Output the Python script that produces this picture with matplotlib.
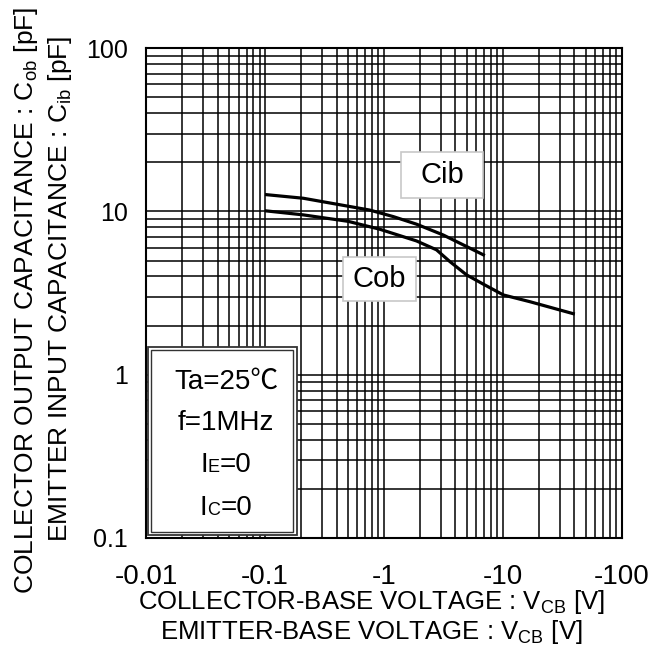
import matplotlib
matplotlib.use('Agg')
import matplotlib.pyplot as plt
import matplotlib.ticker as mtick
from matplotlib.patches import Rectangle
from matplotlib.offsetbox import TextArea, HPacker, AnnotationBbox

plt.rcParams['font.family'] = ['Liberation Sans', 'Noto Sans CJK JP', 'DejaVu Sans']
plt.rcParams['mathtext.fontset'] = 'custom'
plt.rcParams['mathtext.rm'] = 'Liberation Sans'
plt.rcParams['mathtext.it'] = 'Liberation Sans'

# data (|V|, pF)
vcb_cib = [0.1, 0.21, 0.76, 1.2, 1.88, 3.15, 7.06]
cib = [12.7, 12.05, 10.2, 9.3, 8.36, 7.18, 5.37]
vcb_cob = [0.1, 0.21, 0.5, 0.925, 1.88, 2.77, 3.59, 4.95, 6.84, 10.1, 16.9, 40.3]
cob = [10.1, 9.53, 8.7, 7.78, 6.6, 5.82, 4.93, 4.09, 3.59, 3.08, 2.80, 2.35]

x_ticks = [0.01, 0.1, 1, 10, 100]
x_ticklabels = ['-0.01', '-0.1', '-1', '-10', '-100']
y_ticks = [0.1, 1, 10, 100]
y_ticklabels = ['0.1', '1', '10', '100']

fig = plt.figure(figsize=(6.49, 6.52), dpi=100)
ax = fig.add_axes([0.225, 0.175, 0.733, 0.751])

ax.set_xscale('log')
ax.set_yscale('log')
ax.set_xlim(0.01, 100)
ax.set_ylim(0.1, 100)

# grid: major + minor, all black
ax.xaxis.set_minor_locator(mtick.LogLocator(base=10, subs=range(2, 10)))
ax.yaxis.set_minor_locator(mtick.LogLocator(base=10, subs=range(2, 10)))
ax.grid(which='both', color='black', linewidth=1.1)
ax.set_axisbelow(True)

ax.set_xticks(x_ticks)
ax.set_xticklabels(x_ticklabels, fontsize=20)
ax.set_yticks(y_ticks)
ax.set_yticklabels(y_ticklabels, fontsize=18)
ax.xaxis.set_minor_formatter(mtick.NullFormatter())
ax.yaxis.set_minor_formatter(mtick.NullFormatter())
ax.tick_params(which='both', length=0)
ax.tick_params(axis='x', pad=19)
ax.tick_params(axis='y', pad=13)

for sp in ax.spines.values():
    sp.set_linewidth(1.5)

# curves
ax.plot(vcb_cib, cib, color='black', linewidth=2.3, solid_capstyle='butt')
ax.plot(vcb_cob, cob, color='black', linewidth=2.3, solid_capstyle='butt')

# curve labels with light grey boxes
ax.add_patch(Rectangle((0.536, 0.694), 0.172, 0.094, transform=ax.transAxes,
                       facecolor='white', edgecolor='#c8c8c8', linewidth=1.2, zorder=3))
ax.text(0.622, 0.741, 'Cib', fontsize=21, ha='center', va='center', transform=ax.transAxes, zorder=4)
ax.add_patch(Rectangle((0.414, 0.484), 0.153, 0.089, transform=ax.transAxes,
                       facecolor='white', edgecolor='#c8c8c8', linewidth=1.2, zorder=3))
ax.text(0.490, 0.529, 'Cob', fontsize=21, ha='center', va='center', transform=ax.transAxes, zorder=4)

# conditions box (double edge)
ax.add_patch(Rectangle((0.004, 0.006), 0.313, 0.384, transform=ax.transAxes,
                       facecolor='white', edgecolor='#333333', linewidth=1.3, zorder=3))
ax.add_patch(Rectangle((0.011, 0.013), 0.299, 0.370, transform=ax.transAxes,
                       facecolor='white', edgecolor='#333333', linewidth=1.0, zorder=3))

cx = 0.168
ax.text(cx, 0.318, 'Ta=25℃', fontsize=20, ha='center', va='center', transform=ax.transAxes, zorder=4)
ax.text(cx, 0.235, 'f=1MHz', fontsize=20, ha='center', va='center', transform=ax.transAxes, zorder=4)


def small_caps_label(big, small, rest, ypos):
    parts = [TextArea(big, textprops=dict(fontsize=20)),
             TextArea(small, textprops=dict(fontsize=13)),
             TextArea(rest, textprops=dict(fontsize=20))]
    pack = HPacker(children=parts, align='baseline', pad=0, sep=0)
    ab = AnnotationBbox(pack, (cx, ypos), xycoords='axes fraction', frameon=False,
                        box_alignment=(0.5, 0.5), zorder=4)
    ax.add_artist(ab)


small_caps_label('I', 'E', '=0', 0.149)
small_caps_label('I', 'C', '=0', 0.061)

# axis labels
fig.text(0.572, 0.076, r'COLLECTOR-BASE VOLTAGE : V$_{\rm CB}$ [V]', fontsize=18.5, ha='center', va='center')
fig.text(0.572, 0.030, r'EMITTER-BASE VOLTAGE : V$_{\rm CB}$ [V]', fontsize=18.5, ha='center', va='center')
fig.text(0.040, 0.540, r'COLLECTOR OUTPUT CAPACITANCE : C$_{\rm ob}$ [pF]', fontsize=19,
         rotation=90, ha='center', va='center')
fig.text(0.092, 0.557, r'EMITTER INPUT CAPACITANCE : C$_{\rm ib}$ [pF]', fontsize=19,
         rotation=90, ha='center', va='center')

fig.savefig('out.png', dpi=100)
